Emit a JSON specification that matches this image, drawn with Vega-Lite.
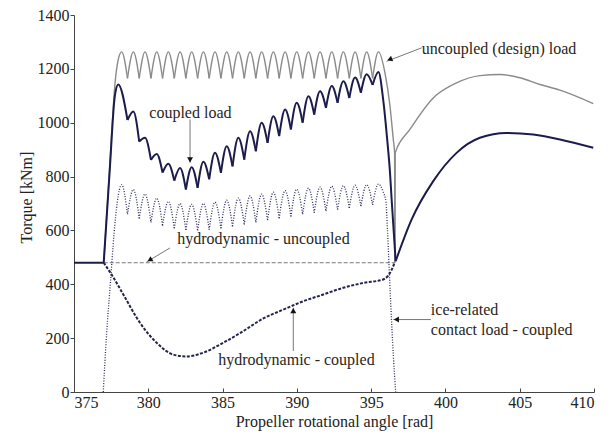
{
"$schema": "https://vega.github.io/schema/vega-lite/v6.json",
"width": 520, "height": 377,
"autosize": {"type": "none"},
"padding": {"left": 74, "top": 15, "right": 20, "bottom": 42},
"background": "white",
"config": {"view": {"stroke": null}, "font": "Liberation Serif",
  "axis": {"grid": false, "labelFont": "Liberation Serif", "titleFont": "Liberation Serif", "labelFontSize": 16, "titleFontSize": 16, "titleFontWeight": "normal", "labelColor": "#222", "titleColor": "#222", "domainColor": "#444", "tickColor": "#444"}},
"datasets": {
"design": [
{"g":"r","x":377.0,"y":480},{"g":"r","x":377.4,"y":830},{"g":"r","x":377.75,"y":1140},{"g":"r","x":378.0,"y":1240},{"g":"r","x":378.21,"y":1263},{"g":"r","x":378.60,"y":1165},
{"g":"a1","x":378.60,"y":1165},{"g":"a1","x":378.995,"y":1263},{"g":"a1","x":379.39,"y":1165},
{"g":"a2","x":379.39,"y":1165},{"g":"a2","x":379.78,"y":1263},{"g":"a2","x":380.18,"y":1165},
{"g":"a3","x":380.18,"y":1165},{"g":"a3","x":380.57,"y":1263},{"g":"a3","x":380.96,"y":1165},
{"g":"a4","x":380.96,"y":1165},{"g":"a4","x":381.35,"y":1263},{"g":"a4","x":381.75,"y":1165},
{"g":"a5","x":381.75,"y":1165},{"g":"a5","x":382.14,"y":1263},{"g":"a5","x":382.53,"y":1165},
{"g":"a6","x":382.53,"y":1165},{"g":"a6","x":382.92,"y":1263},{"g":"a6","x":383.32,"y":1165},
{"g":"a7","x":383.32,"y":1165},{"g":"a7","x":383.71,"y":1263},{"g":"a7","x":384.10,"y":1165},
{"g":"a8","x":384.10,"y":1165},{"g":"a8","x":384.49,"y":1263},{"g":"a8","x":384.89,"y":1165},
{"g":"a9","x":384.89,"y":1165},{"g":"a9","x":385.28,"y":1263},{"g":"a9","x":385.67,"y":1165},
{"g":"a10","x":385.67,"y":1165},{"g":"a10","x":386.06,"y":1263},{"g":"a10","x":386.46,"y":1165},
{"g":"a11","x":386.46,"y":1165},{"g":"a11","x":386.85,"y":1263},{"g":"a11","x":387.24,"y":1165},
{"g":"a12","x":387.24,"y":1165},{"g":"a12","x":387.63,"y":1263},{"g":"a12","x":388.03,"y":1165},
{"g":"a13","x":388.03,"y":1165},{"g":"a13","x":388.42,"y":1263},{"g":"a13","x":388.81,"y":1165},
{"g":"a14","x":388.81,"y":1165},{"g":"a14","x":389.21,"y":1263},{"g":"a14","x":389.60,"y":1165},
{"g":"a15","x":389.60,"y":1165},{"g":"a15","x":389.99,"y":1263},{"g":"a15","x":390.39,"y":1165},
{"g":"a16","x":390.39,"y":1165},{"g":"a16","x":390.78,"y":1263},{"g":"a16","x":391.17,"y":1165},
{"g":"a17","x":391.17,"y":1165},{"g":"a17","x":391.56,"y":1263},{"g":"a17","x":391.96,"y":1165},
{"g":"a18","x":391.96,"y":1165},{"g":"a18","x":392.35,"y":1263},{"g":"a18","x":392.74,"y":1165},
{"g":"a19","x":392.74,"y":1165},{"g":"a19","x":393.13,"y":1263},{"g":"a19","x":393.53,"y":1165},
{"g":"a20","x":393.53,"y":1165},{"g":"a20","x":393.92,"y":1263},{"g":"a20","x":394.31,"y":1165},
{"g":"a21","x":394.31,"y":1165},{"g":"a21","x":394.70,"y":1263},{"g":"a21","x":395.10,"y":1165},
{"g":"f","x":395.10,"y":1165},{"g":"f","x":395.49,"y":1263},{"g":"f","x":395.93,"y":1185},{"g":"f","x":396.27,"y":1061},{"g":"f","x":396.49,"y":938},{"g":"f","x":396.58,"y":888},{"g":"f","x":396.60,"y":482},
{"g":"t","x":396.60,"y":482},{"g":"t","x":396.62,"y":888},{"g":"t","x":397.61,"y":975},{"g":"t","x":399.18,"y":1092},{"g":"t","x":400.75,"y":1148},{"g":"t","x":402.32,"y":1175},{"g":"t","x":403.67,"y":1179},{"g":"t","x":405.01,"y":1167},{"g":"t","x":406.36,"y":1142},{"g":"t","x":407.71,"y":1121},{"g":"t","x":409.95,"y":1071}
],
"coupled": [
{"g":"flat","x":375.0,"y":480},{"g":"flat","x":377.0,"y":480},
{"g":"r","x":377.0,"y":480},{"g":"r","x":377.4,"y":820},{"g":"r","x":377.75,"y":1100},{"g":"r","x":377.98,"y":1142},{"g":"r","x":378.60,"y":1010},
{"g":"a1","x":378.60,"y":1010},{"g":"a1","x":378.995,"y":1042},{"g":"a1","x":379.39,"y":930},
{"g":"a2","x":379.39,"y":930},{"g":"a2","x":379.78,"y":944},{"g":"a2","x":380.18,"y":862},
{"g":"a3","x":380.18,"y":862},{"g":"a3","x":380.57,"y":884},{"g":"a3","x":380.96,"y":815},
{"g":"a4","x":380.96,"y":815},{"g":"a4","x":381.35,"y":848},{"g":"a4","x":381.75,"y":785},
{"g":"a5","x":381.75,"y":785},{"g":"a5","x":382.14,"y":832},{"g":"a5","x":382.53,"y":752},
{"g":"a6","x":382.53,"y":752},{"g":"a6","x":382.92,"y":835},{"g":"a6","x":383.32,"y":758},
{"g":"a7","x":383.32,"y":758},{"g":"a7","x":383.71,"y":855},{"g":"a7","x":384.10,"y":790},
{"g":"a8","x":384.10,"y":790},{"g":"a8","x":384.49,"y":888},{"g":"a8","x":384.89,"y":814},
{"g":"a9","x":384.89,"y":814},{"g":"a9","x":385.28,"y":913},{"g":"a9","x":385.67,"y":838},
{"g":"a10","x":385.67,"y":838},{"g":"a10","x":386.06,"y":944},{"g":"a10","x":386.46,"y":863},
{"g":"a11","x":386.46,"y":863},{"g":"a11","x":386.85,"y":968},{"g":"a11","x":387.24,"y":894},
{"g":"a12","x":387.24,"y":894},{"g":"a12","x":387.63,"y":1000},{"g":"a12","x":388.03,"y":925},
{"g":"a13","x":388.03,"y":925},{"g":"a13","x":388.42,"y":1024},{"g":"a13","x":388.81,"y":950},
{"g":"a14","x":388.81,"y":950},{"g":"a14","x":389.21,"y":1049},{"g":"a14","x":389.60,"y":975},
{"g":"a15","x":389.60,"y":975},{"g":"a15","x":389.99,"y":1074},{"g":"a15","x":390.39,"y":1000},
{"g":"a16","x":390.39,"y":1000},{"g":"a16","x":390.78,"y":1098},{"g":"a16","x":391.17,"y":1030},
{"g":"a17","x":391.17,"y":1030},{"g":"a17","x":391.56,"y":1117},{"g":"a17","x":391.96,"y":1055},
{"g":"a18","x":391.96,"y":1055},{"g":"a18","x":392.35,"y":1136},{"g":"a18","x":392.74,"y":1074},
{"g":"a19","x":392.74,"y":1074},{"g":"a19","x":393.13,"y":1154},{"g":"a19","x":393.53,"y":1092},
{"g":"a20","x":393.53,"y":1092},{"g":"a20","x":393.92,"y":1168},{"g":"a20","x":394.31,"y":1111},
{"g":"a21","x":394.31,"y":1111},{"g":"a21","x":394.70,"y":1180},{"g":"a21","x":395.10,"y":1140},
{"g":"f","x":395.10,"y":1140},{"g":"f","x":395.49,"y":1188},{"g":"f","x":395.81,"y":1086},{"g":"f","x":396.08,"y":938},{"g":"f","x":396.27,"y":814},{"g":"f","x":396.38,"y":715},{"g":"f","x":396.65,"y":486},
{"g":"t","x":396.65,"y":486},{"g":"t","x":397.72,"y":640},{"g":"t","x":399.18,"y":783},{"g":"t","x":400.75,"y":888},{"g":"t","x":402.32,"y":944},{"g":"t","x":404.12,"y":962},{"g":"t","x":405.91,"y":956},{"g":"t","x":407.71,"y":938},{"g":"t","x":409.95,"y":907}
],
"ice": [
{"g":"r","x":376.97,"y":0},{"g":"r","x":377.2,"y":221},{"g":"r","x":377.45,"y":405},{"g":"r","x":377.7,"y":592},{"g":"r","x":377.9,"y":700},{"g":"r","x":378.21,"y":770},{"g":"r","x":378.60,"y":660},
{"g":"a1","x":378.60,"y":660},{"g":"a1","x":378.995,"y":752},{"g":"a1","x":379.39,"y":645},
{"g":"a2","x":379.39,"y":645},{"g":"a2","x":379.78,"y":735},{"g":"a2","x":380.18,"y":630},
{"g":"a3","x":380.18,"y":630},{"g":"a3","x":380.57,"y":720},{"g":"a3","x":380.96,"y":618},
{"g":"a4","x":380.96,"y":618},{"g":"a4","x":381.35,"y":708},{"g":"a4","x":381.75,"y":608},
{"g":"a5","x":381.75,"y":608},{"g":"a5","x":382.14,"y":700},{"g":"a5","x":382.53,"y":602},
{"g":"a6","x":382.53,"y":602},{"g":"a6","x":382.92,"y":697},{"g":"a6","x":383.32,"y":600},
{"g":"a7","x":383.32,"y":600},{"g":"a7","x":383.71,"y":700},{"g":"a7","x":384.10,"y":603},
{"g":"a8","x":384.10,"y":603},{"g":"a8","x":384.49,"y":705},{"g":"a8","x":384.89,"y":608},
{"g":"a9","x":384.89,"y":608},{"g":"a9","x":385.28,"y":712},{"g":"a9","x":385.67,"y":615},
{"g":"a10","x":385.67,"y":615},{"g":"a10","x":386.06,"y":720},{"g":"a10","x":386.46,"y":622},
{"g":"a11","x":386.46,"y":622},{"g":"a11","x":386.85,"y":728},{"g":"a11","x":387.24,"y":630},
{"g":"a12","x":387.24,"y":630},{"g":"a12","x":387.63,"y":735},{"g":"a12","x":388.03,"y":638},
{"g":"a13","x":388.03,"y":638},{"g":"a13","x":388.42,"y":742},{"g":"a13","x":388.81,"y":645},
{"g":"a14","x":388.81,"y":645},{"g":"a14","x":389.21,"y":748},{"g":"a14","x":389.60,"y":652},
{"g":"a15","x":389.60,"y":652},{"g":"a15","x":389.99,"y":753},{"g":"a15","x":390.39,"y":660},
{"g":"a16","x":390.39,"y":660},{"g":"a16","x":390.78,"y":757},{"g":"a16","x":391.17,"y":666},
{"g":"a17","x":391.17,"y":666},{"g":"a17","x":391.56,"y":761},{"g":"a17","x":391.96,"y":672},
{"g":"a18","x":391.96,"y":672},{"g":"a18","x":392.35,"y":764},{"g":"a18","x":392.74,"y":678},
{"g":"a19","x":392.74,"y":678},{"g":"a19","x":393.13,"y":766},{"g":"a19","x":393.53,"y":684},
{"g":"a20","x":393.53,"y":684},{"g":"a20","x":393.92,"y":768},{"g":"a20","x":394.31,"y":690},
{"g":"a21","x":394.31,"y":690},{"g":"a21","x":394.70,"y":770},{"g":"a21","x":395.10,"y":695},
{"g":"f","x":395.10,"y":695},{"g":"f","x":395.49,"y":772},{"g":"f","x":395.80,"y":745},{"g":"f","x":396.0,"y":705},{"g":"f","x":396.1,"y":600},{"g":"f","x":396.3,"y":350},{"g":"f","x":396.5,"y":130},{"g":"f","x":396.65,"y":0}
],
"hydroC": [
{"x":377.0,"y":480},{"x":377.6,"y":430},{"x":378.32,"y":362},{"x":379.44,"y":257},{"x":380.56,"y":183},{"x":381.68,"y":139},{"x":382.58,"y":132},{"x":383.70,"y":146},{"x":385.05,"y":183},{"x":386.39,"y":226},{"x":387.74,"y":273},{"x":389.09,"y":306},{"x":390.43,"y":337},{"x":391.78,"y":362},{"x":393.12,"y":387},{"x":394.47,"y":405},{"x":395.81,"y":418},{"x":396.15,"y":432},{"x":396.60,"y":482}
],
"hydroU": [{"x":377.0,"y":480},{"x":396.6,"y":480}],
"arrows": [
{"id":"design","x":398.40,"y":1278,"x2":396.04,"y2":1228},
{"id":"coupled","x":382.81,"y":1012,"x2":382.81,"y2":851},
{"id":"hu","x":381.46,"y":535,"x2":379.89,"y2":483},
{"id":"hc","x":389.76,"y":152,"x2":389.76,"y2":313},
{"id":"ice","x":399.02,"y":269,"x2":396.49,"y2":269}
],
"heads": [
{"id":"design","x":396.25,"y":1235},
{"id":"coupled","x":382.81,"y":862},
{"id":"hu","x":380.1,"y":490},
{"id":"hc","x":389.76,"y":302},
{"id":"ice","x":396.7,"y":269}
],
"labels": [
{"t":"uncoupled (design) load","x":398.40,"y":1274},
{"t":"coupled load","x":380.07,"y":1037},
{"t":"hydrodynamic - uncoupled","x":381.95,"y":569},
{"t":"hydrodynamic - coupled","x":384.71,"y":118},
{"t":"ice-related","x":399.02,"y":303},
{"t":"contact load - coupled","x":399.02,"y":232}
]
},
"encoding": {
  "x": {"field": "x", "type": "quantitative", "scale": {"domain": [375, 410], "nice": false, "zero": false},
        "axis": {"title": "Propeller rotational angle [rad]", "values": [375,380,385,390,395,400,405,410], "tickSize": -4, "labelPadding": 6.5, "titlePadding": 3, "format": "d"}},
  "y": {"field": "y", "type": "quantitative", "scale": {"domain": [0, 1400], "nice": false},
        "axis": {"title": "Torque [kNm]", "values": [0,200,400,600,800,1000,1200,1400], "tickSize": 4, "labelPadding": 1, "titleX": -48, "titleY": 182, "titleAngle": -90, "titleAlign": "center", "titleBaseline": "middle", "format": "d"}}
},
"layer": [
  {"data": {"name": "hydroU"}, "mark": {"type": "line", "color": "#777", "strokeWidth": 1, "strokeDash": [4, 2]}},
  {"data": {"name": "ice"}, "mark": {"type": "line", "color": "#2c2c5c", "strokeWidth": 1.3, "strokeDash": [1, 1.6], "interpolate": "monotone"}, "encoding": {"detail": {"field": "g"}}},
  {"data": {"name": "hydroC"}, "mark": {"type": "line", "color": "#23234f", "strokeWidth": 2, "strokeDash": [3, 1.5], "interpolate": "monotone"}},
  {"data": {"name": "design"}, "mark": {"type": "line", "color": "#8a8a8a", "strokeWidth": 1.4, "interpolate": "monotone"}, "encoding": {"detail": {"field": "g"}}},
  {"data": {"name": "coupled"}, "mark": {"type": "line", "color": "#1c1c4c", "strokeWidth": 2, "interpolate": "monotone"}, "encoding": {"detail": {"field": "g"}}},
  {"data": {"name": "arrows"}, "mark": {"type": "rule", "color": "#777", "strokeWidth": 1}, "encoding": {"x2": {"field": "x2"}, "y2": {"field": "y2"}}},
  {"data": {"name": "heads"}, "transform": [{"filter": "datum.id == 'design'"}], "mark": {"type": "point", "shape": "triangle-left", "angle": 339, "filled": true, "color": "#111", "size": 35, "opacity": 1}},
  {"data": {"name": "heads"}, "transform": [{"filter": "datum.id == 'hu'"}], "mark": {"type": "point", "shape": "triangle-left", "angle": 329, "filled": true, "color": "#111", "size": 35, "opacity": 1}},
  {"data": {"name": "heads"}, "transform": [{"filter": "datum.id == 'coupled'"}], "mark": {"type": "point", "shape": "triangle-down", "filled": true, "color": "#111", "size": 35, "opacity": 1}},
  {"data": {"name": "heads"}, "transform": [{"filter": "datum.id == 'hc'"}], "mark": {"type": "point", "shape": "triangle-up", "filled": true, "color": "#111", "size": 35, "opacity": 1}},
  {"data": {"name": "heads"}, "transform": [{"filter": "datum.id == 'ice'"}], "mark": {"type": "point", "shape": "triangle-left", "filled": true, "color": "#111", "size": 35, "opacity": 1}},
  {"data": {"name": "labels"}, "mark": {"type": "text", "align": "left", "baseline": "middle", "font": "Liberation Serif", "fontSize": 16, "color": "#2a2520"}, "encoding": {"text": {"field": "t"}}}
]
}
